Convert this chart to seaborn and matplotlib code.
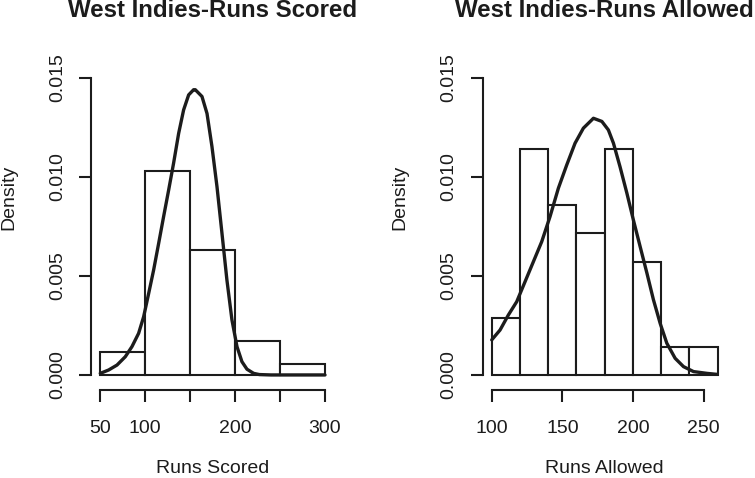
import numpy as np
import pandas as pd
import matplotlib
matplotlib.use("Agg")
import matplotlib.pyplot as plt
import seaborn as sns

# ---- data ----
scored_edges = [50, 100, 150, 200, 250, 300]
scored_counts = [2, 18, 11, 3, 1]
scored_curve_x = [50.3, 59.6, 68.9, 78.1, 85.5, 92.9, 98.5, 104, 109.6, 115.2, 120.7, 126.3,
                  131.8, 137.4, 142.9, 148.5, 154, 155.9, 163.3, 168.9, 174.4, 180, 185.5,
                  191, 196.6, 202.2, 207.7, 213.3, 220.7, 227, 240, 300]
scored_curve_y = [0.00008, 0.00025, 0.0005, 0.00092, 0.00143, 0.0021, 0.00294, 0.0041, 0.0053,
                  0.00665, 0.0080, 0.00934, 0.0107, 0.0122, 0.01338, 0.01414, 0.0144, 0.0144,
                  0.01406, 0.0132, 0.01153, 0.0095, 0.00716, 0.0048, 0.00278, 0.00143,
                  0.00067, 0.00029, 0.00008, 0.00002, 0.0, 0.0]

allowed_edges = [100, 120, 140, 160, 180, 200, 220, 240, 260]
allowed_counts = [2, 8, 6, 5, 8, 4, 1, 1]
allowed_curve_x = [100, 105.9, 111.8, 117.7, 123.6, 129.5, 135.4, 141.3, 147.2, 153.1, 159,
                   164.9, 170.9, 172, 178, 182.6, 186.2, 190.9, 195.7, 200.4, 205.1, 209.9,
                   214.5, 219.3, 224, 229.9, 235.8, 242.9, 252.4, 259.5]
allowed_curve_y = [0.00177, 0.00227, 0.00303, 0.0037, 0.00471, 0.00572, 0.00673, 0.0080,
                   0.00943, 0.0106, 0.0117, 0.01246, 0.01288, 0.01296, 0.0128, 0.01237,
                   0.0117, 0.0105, 0.00918, 0.0078, 0.00648, 0.00514, 0.0038, 0.0026,
                   0.0016, 0.00084, 0.00042, 0.00017, 0.00008, 0.00003]

titles = ["West Indies-Runs Scored", "West Indies-Runs Allowed"]
xlabels = ["Runs Scored", "Runs Allowed"]
ylabel = "Density"
scored_xticks = [50, 100, 150, 200, 250, 300]
scored_xticklabels = ["50", "100", "", "200", "", "300"]
allowed_xticks = [100, 150, 200, 250]
allowed_xticklabels = ["100", "150", "200", "250"]
yticks = [0.0, 0.005, 0.010, 0.015]
yticklabels = ["0.000", "0.005", "0.010", "0.015"]

# ---- style ----
sns.set_style("white")
plt.rcParams["font.family"] = ["Liberation Sans", "DejaVu Sans"]
INK = "#1c1c1c"
FS = 14

W, H = 755, 478
fig = plt.figure(figsize=(W / 100, H / 100), dpi=100)

def px_axes(left_px, right_px, bottom_px, top_px):
    return fig.add_axes([left_px / W, (H - bottom_px) / H,
                         (right_px - left_px) / W, (bottom_px - top_px) / H])

ax1 = px_axes(91, 334, 390, 63)
ax2 = px_axes(482.7, 726.7, 390, 63)

panels = [
    (ax1, scored_edges, scored_counts, scored_curve_x, scored_curve_y,
     (40, 310), scored_xticks, scored_xticklabels),
    (ax2, allowed_edges, allowed_counts, allowed_curve_x, allowed_curve_y,
     (93.6, 266.4), allowed_xticks, allowed_xticklabels),
]

for i, (ax, edges, counts, cx, cy, xlim, xt, xtl) in enumerate(panels):
    mids = [(a + b) / 2 for a, b in zip(edges[:-1], edges[1:])]
    hist_df = pd.DataFrame({"x": mids, "w": counts})
    sns.histplot(data=hist_df, x="x", weights="w", bins=edges, stat="density",
                 color="white", edgecolor=INK, linewidth=1.5, alpha=1, ax=ax)
    curve_df = pd.DataFrame({"x": cx, "y": cy})
    sns.lineplot(data=curve_df, x="x", y="y", ax=ax, color=INK, linewidth=2.4,
                 sort=False, estimator=None)
    ax.set_xlim(*xlim)
    ax.set_ylim(-0.00076, 0.01575)
    sns.despine(ax=ax, top=True, right=True)
    for s in ("left", "bottom"):
        ax.spines[s].set_color(INK)
        ax.spines[s].set_linewidth(1.5)
    ax.spines["bottom"].set_bounds(xt[0], xt[-1])
    ax.spines["left"].set_bounds(0, 0.015)
    ax.set_xticks(xt)
    ax.set_xticklabels(xtl)
    ax.set_yticks(yticks)
    ax.set_yticklabels(yticklabels, rotation=90, va="center")
    ax.tick_params(axis="x", length=8.6, width=1.5, color=INK, labelsize=FS,
                   labelcolor=INK, pad=13, bottom=True)
    ax.tick_params(axis="y", length=9, width=1.5, color=INK, labelsize=FS,
                   labelcolor=INK, pad=9, left=True)
    ax.set_xlabel(xlabels[i], fontsize=FS, color=INK)
    ax.set_ylabel(ylabel, fontsize=FS, color=INK)
    ax.xaxis.set_label_coords(0.5, -0.215)
    ax.yaxis.set_label_coords(-0.305, 0.59)
    ax.grid(False)
    ax.patch.set_alpha(0)
    ax.set_title("")
    bb = ax.get_position()
    fig.text(bb.x0 + bb.width / 2, (H - 17) / H, titles[i], ha="center", va="baseline",
             fontsize=17.3, fontweight="bold", color=INK)

fig.savefig("out.png", dpi=100, facecolor="white")
